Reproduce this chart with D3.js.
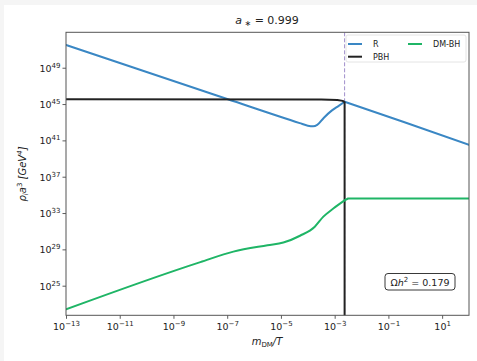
<!DOCTYPE html>
<html>
<head>
<meta charset="utf-8">
<script src="https://cdn.jsdelivr.net/npm/d3@7"></script>
<style>
  html, body { margin: 0; padding: 0; background: #f5f5f5; }
  svg { display: block; }
  text { font-family: "DejaVu Sans", sans-serif; fill: #222; }
</style>
</head>
<body>
<svg id="chart" width="477" height="361"></svg>
<script>
// Energy densities (log10 of rho * a^3 in GeV^4) against log10(m_DM / T)
const radiationX = [-13, -7, -4.3, -4.0, -3.8, -3.65, -3.4, -3.1, -2.85, -2.63, -0.4, 2];
const radiationY = [51.5, 45.55, 42.9, 42.62, 42.55, 42.7, 43.5, 44.3, 44.8, 45.25, 43.0, 40.5];

const pbhX = [-13, -3.5, -2.9, -2.7, -2.63, -2.63];
const pbhY = [45.52, 45.5, 45.45, 45.35, 45.2, 10];

const dmbhX = [-13, -8, -6.77, -5.5, -4.91, -4.29, -3.74, -3.42, -3.05, -2.63, -2.5, 2];
const dmbhY = [22.4, 27.6, 28.75, 29.45, 29.75, 30.5, 31.5, 32.6, 33.5, 34.4, 34.6, 34.6];

const evaporationX = -2.63;      // log10 position of the dashed marker
const xTickExps = [-13, -11, -9, -7, -5, -3, -1, 1];
const yTickExps = [25, 29, 33, 37, 41, 45, 49];
const relicDensity = "0.179";
const spin = "0.999";

const seriesList = [
  { name: "R", xs: radiationX, ys: radiationY, color: "#3a87c4" },
  { name: "PBH", xs: pbhX, ys: pbhY, color: "#222222" },
  { name: "DM-BH", xs: dmbhX, ys: dmbhY, color: "#1fb566" }
];

const svg = d3.select("#chart");
svg.append("rect").attr("x", 4).attr("y", 5).attr("width", 473).attr("height", 356).attr("fill", "#fff");

const m = { left: 66, right: 469, top: 32.3, bottom: 315.3 };
const x = d3.scaleLog().domain([1e-13, 1e2]).range([m.left, m.right]);
const y = d3.scaleLog().domain([Math.pow(10, 21.74), Math.pow(10, 52.9)]).range([m.bottom, m.top]);

const defs = svg.append("defs");
defs.append("clipPath").attr("id", "plotclip")
  .append("rect").attr("x", m.left).attr("y", m.top)
  .attr("width", m.right - m.left).attr("height", m.bottom - m.top);

const plot = svg.append("g").attr("clip-path", "url(#plotclip)");
const px = d => x(Math.pow(10, d[0]));
const py = d => y(Math.pow(10, d[1]));
const smooth = d3.line().x(px).y(py).curve(d3.curveMonotoneX);
const straight = d3.line().x(px).y(py);

// dashed marker at evaporation, beneath the curves
plot.append("line")
  .attr("x1", x(Math.pow(10, evaporationX))).attr("x2", x(Math.pow(10, evaporationX)))
  .attr("y1", m.top).attr("y2", m.bottom)
  .attr("stroke", "#a08fcc").attr("stroke-width", 1).attr("stroke-dasharray", "4,2");

seriesList.forEach(s => {
  const pts = s.xs.map((v, i) => [v, s.ys[i]]);
  const g = plot.append("g");
  const draw = d => g.append("path").attr("d", d)
    .attr("fill", "none").attr("stroke", s.color).attr("stroke-width", 2)
    .attr("stroke-linejoin", "round").attr("stroke-linecap", "round");
  if (s.name === "PBH") {
    draw(straight(pts));
  } else {
    // smooth up to evaporation, straight afterwards (sharp corner at the junction)
    const k = s.xs.indexOf(evaporationX);
    draw(smooth(pts.slice(0, k + 1)));
    draw(straight(pts.slice(k)));
  }
});

// axes
const sup = (sel, exp) => {
  sel.text(null);
  sel.append("tspan").text("10");
  sel.append("tspan").attr("dy", -4).attr("font-size", "7px").text(exp < 0 ? "\u2212" + (-exp) : exp);
};

const xAxis = svg.append("g").attr("transform", `translate(0,${m.bottom})`)
  .call(d3.axisBottom(x).tickValues(xTickExps.map(e => Math.pow(10, e))).tickSize(3.5).tickFormat(""));
xAxis.selectAll(".tick text").remove();
xAxis.selectAll(".tick").each(function(d, i) {
  const t = d3.select(this).append("text").attr("y", 15).attr("text-anchor", "middle").attr("font-size", "9.5px");
  sup(t, xTickExps[i]);
});

const yAxis = svg.append("g").attr("transform", `translate(${m.left},0)`)
  .call(d3.axisLeft(y).tickValues(yTickExps.map(e => Math.pow(10, e))).tickSize(3.5).tickFormat(""));
yAxis.selectAll(".tick text").remove();
yAxis.selectAll(".tick").each(function(d, i) {
  const t = d3.select(this).append("text").attr("x", -5.5).attr("y", 3.5).attr("text-anchor", "end").attr("font-size", "9.5px");
  sup(t, yTickExps[i]);
});
[xAxis, yAxis].forEach(a => {
  a.select(".domain").remove();
  a.selectAll(".tick line").attr("stroke", "#333").attr("stroke-width", 0.8);
});

svg.append("rect").attr("x", m.left).attr("y", m.top)
  .attr("width", m.right - m.left).attr("height", m.bottom - m.top)
  .attr("fill", "none").attr("stroke", "#555").attr("stroke-width", 1);

// title
const title = svg.append("text").attr("x", 267).attr("y", 23.5).attr("text-anchor", "middle").attr("font-size", "11px");
title.append("tspan").attr("font-style", "italic").text("a");
title.append("tspan").attr("dy", 2).attr("font-size", "8px").text(" \u2217");
title.append("tspan").attr("dy", -2).text(" = " + spin);

// axis labels
const xl = svg.append("text").attr("x", 267).attr("y", 345).attr("text-anchor", "middle").attr("font-size", "10px");
xl.append("tspan").attr("font-style", "italic").text("m");
xl.append("tspan").attr("dy", 2).attr("font-size", "7px").text("DM");
xl.append("tspan").attr("dy", -2).attr("font-style", "italic").text("/T");

const yl = svg.append("text").attr("transform", "translate(26,174) rotate(-90)").attr("text-anchor", "middle").attr("font-size", "10px");
yl.append("tspan").attr("font-style", "italic").text("\u03c1");
yl.append("tspan").attr("dy", 2).attr("font-size", "7px").attr("font-style", "italic").text("i");
yl.append("tspan").attr("dy", -2).attr("font-style", "italic").text("a");
yl.append("tspan").attr("dy", -4).attr("font-size", "7px").text("3");
yl.append("tspan").attr("dy", 4).attr("font-style", "italic").text(" [GeV");
yl.append("tspan").attr("dy", -4).attr("font-size", "7px").attr("font-style", "italic").text("4");
yl.append("tspan").attr("dy", 4).attr("font-style", "italic").text("]");

// legend
const lg = svg.append("g");
lg.append("rect").attr("x", 346).attr("y", 35).attr("width", 120).attr("height", 27).attr("rx", 2)
  .attr("fill", "#fff").attr("fill-opacity", 0.85).attr("stroke", "#ddd").attr("stroke-width", 0.8);
const legendPos = { "R": [348, 44], "PBH": [348, 56.7], "DM-BH": [408, 44] };
seriesList.forEach(s => {
  const [lx, ly] = legendPos[s.name];
  lg.append("line").attr("x1", lx).attr("x2", lx + 14).attr("y1", ly).attr("y2", ly)
    .attr("stroke", s.color).attr("stroke-width", 2);
  lg.append("text").attr("x", lx + 25).attr("y", ly + 3).attr("font-size", "8px").text(s.name);
});

// relic density annotation
svg.append("rect").attr("x", 385).attr("y", 273.5).attr("width", 70).attr("height", 16.5).attr("rx", 3)
  .attr("fill", "#fff").attr("stroke", "#222").attr("stroke-width", 0.9);
const ann = svg.append("text").attr("x", 420).attr("y", 285.5).attr("text-anchor", "middle").attr("font-size", "9.5px");
ann.append("tspan").text("\u03a9");
ann.append("tspan").attr("font-style", "italic").text("h");
ann.append("tspan").attr("dy", -4).attr("font-size", "7px").text("2");
ann.append("tspan").attr("dy", 4).text(" = " + relicDensity);
</script>
</body>
</html>
